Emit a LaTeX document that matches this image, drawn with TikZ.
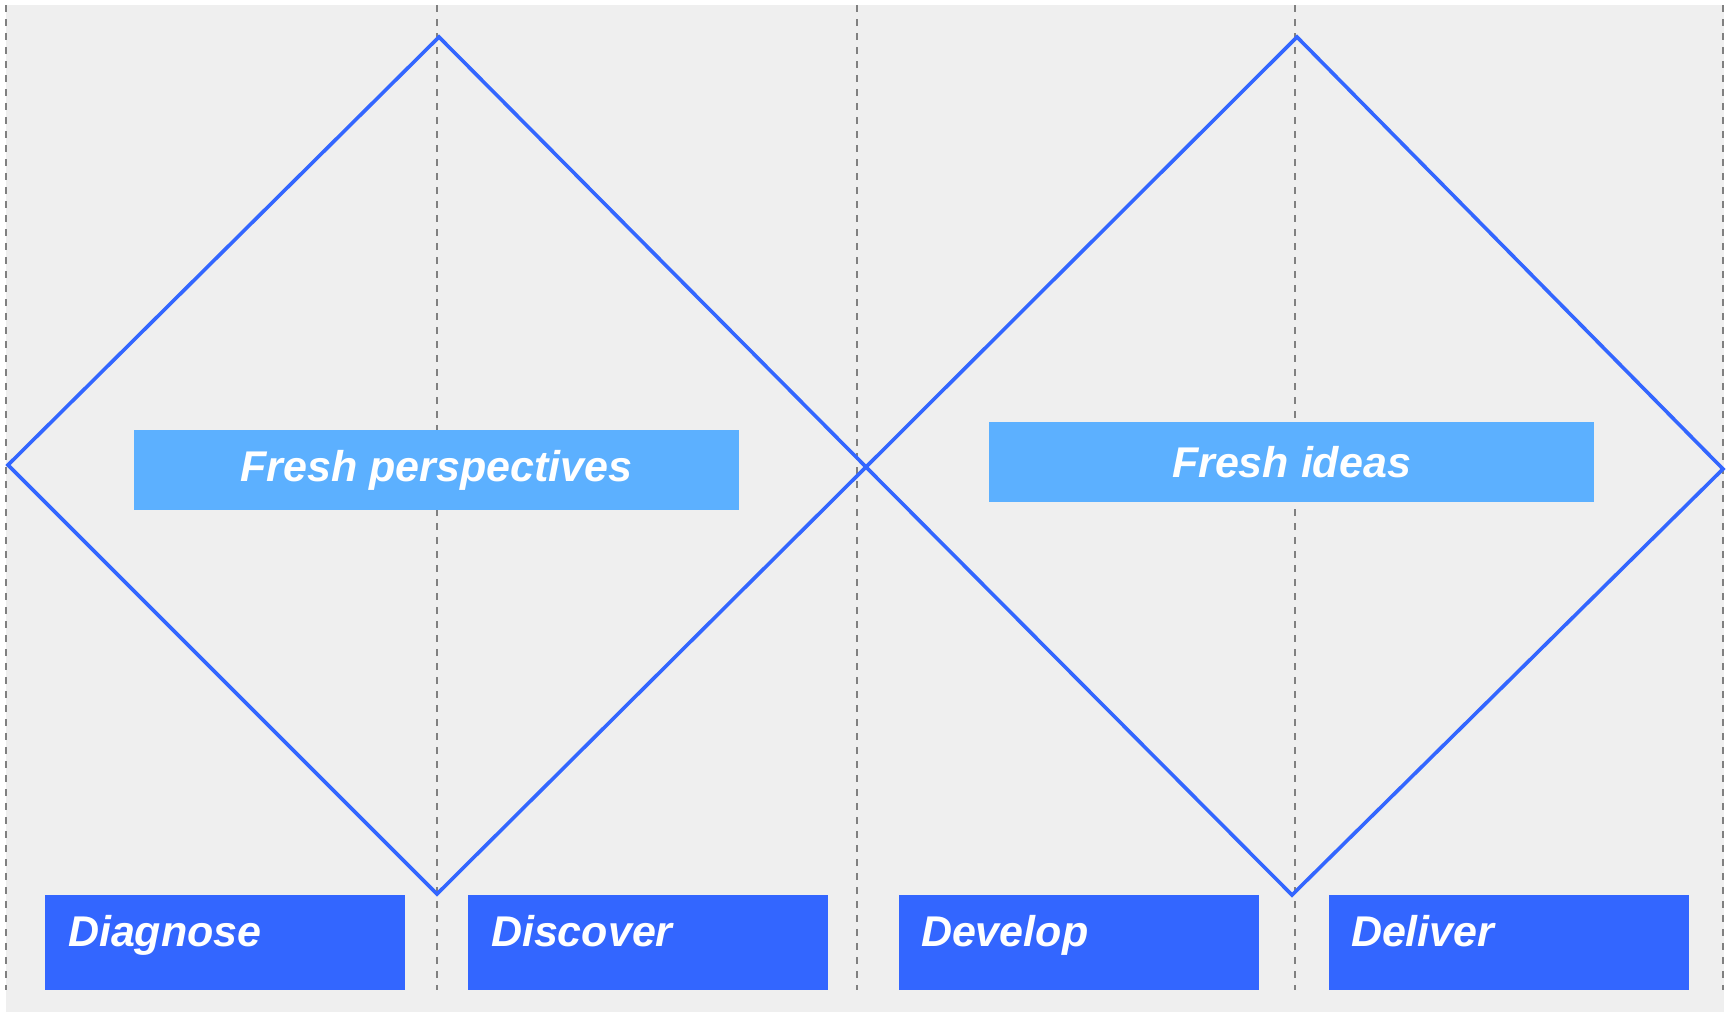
\documentclass[tikz,border=0pt]{standalone}
\usepackage{fontspec}
\setmainfont{Liberation Sans}
\usepackage{tikz}
\usetikzlibrary{calc}
\definecolor{stageblue}{HTML}{3366FF}
\definecolor{ideablue}{HTML}{5CB0FF}
\definecolor{paper}{HTML}{EFEFEF}
\definecolor{guide}{HTML}{808080}
\tikzset{
	every node/.style={draw=none,rectangle,outer sep=0pt,inner sep=0pt},
	guideline/.style={draw=guide,line width=2.2pt,dash pattern=on 7pt off 7pt},
	diamondline/.style={draw=stageblue,line width=3.6pt,line join=miter},
	stage/.style={fill=stageblue,anchor=north west,minimum width=360pt,minimum height=95pt},
	stagetext/.style={anchor=base west,text=white,font=\fontsize{43}{50}\selectfont\bfseries\itshape},
	outcome/.style={fill=ideablue,text=white,minimum width=605pt,minimum height=80pt,font=\fontsize{43}{50}\selectfont\bfseries\itshape}
}
\begin{document}
\begin{tikzpicture}[x=1pt,y=-1pt]
		\useasboundingbox (0,0) rectangle (1734,1012);
		\fill[paper] (6,5) rectangle (1724,1012);
		
		% guides
		\foreach \gx in {6,437,857,1295,1723}
			\draw[guideline] (\gx,5) -- (\gx,990);
		
		% first diamond
		\coordinate (l1) at (8,465);
		\coordinate (t1) at (439,37);
		\coordinate (m) at (866,467);
		\coordinate (b1) at (437,894);
		% second diamond
		\coordinate (t2) at (1297,37);
		\coordinate (r2) at (1723,469);
		\coordinate (b2) at (1292,895);
		
		\draw[diamondline] (l1) -- (t1) -- (m) -- (b1) -- cycle;
		\draw[diamondline] (m) -- (t2) -- (r2) -- (b2) -- cycle;
		
		\node[outcome] (persp) at (436.5,470) {Fresh perspectives};
		\node[outcome] (ideas) at (1291.5,462) {Fresh ideas};
		
		\node[stage] (diag) at (45,895) {};
		\node[stage] (disc) at (468,895) {};
		\node[stage] (dev) at (899,895) {};
		\node[stage] (deliv) at (1329,895) {};
		
		\node[stagetext] (diagtxt) at ($(diag.north west)+(23,51)$) {Diagnose};
		\node[stagetext] (disctxt) at ($(disc.north west)+(23,51)$) {Discover};
		\node[stagetext] (devtxt) at ($(dev.north west)+(22,51)$) {Develop};
		\node[stagetext] (delivtxt) at ($(deliv.north west)+(22,51)$) {Deliver};
		\end{tikzpicture}
\end{document}
